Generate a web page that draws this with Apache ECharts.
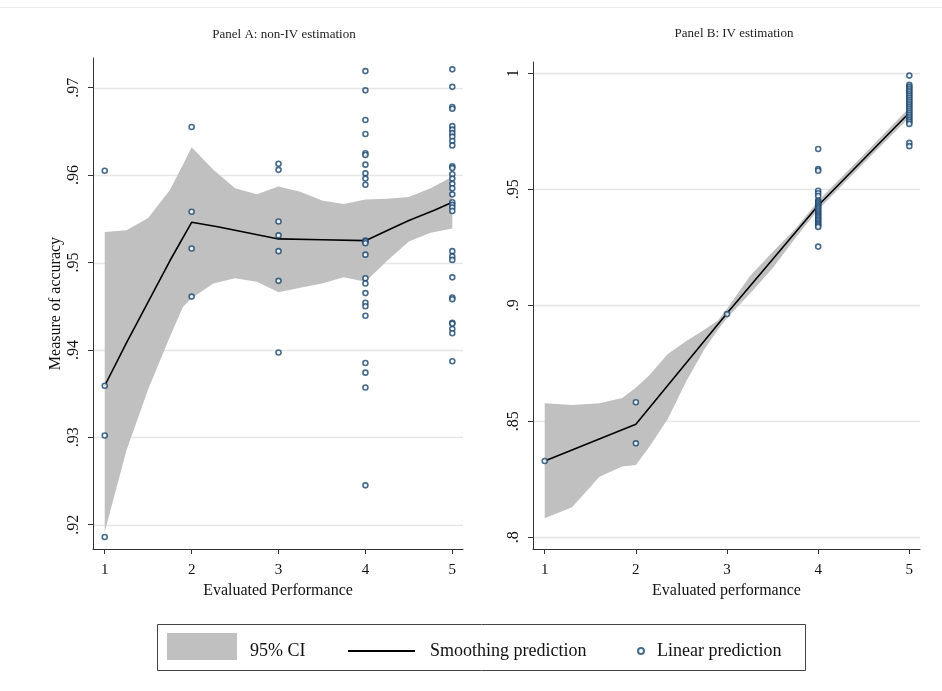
<!DOCTYPE html>
<html><head><meta charset="utf-8">
<script src="https://cdn.jsdelivr.net/npm/echarts@6/dist/echarts.min.js"></script>
<style>html,body{margin:0;padding:0;background:#fff}#c{width:942px;height:691px}</style>
</head><body><div id="c"></div>
<script>
// ---------- Data ----------
const xTicks = [1, 2, 3, 4, 5];
const yTicksA = [0.92, 0.93, 0.94, 0.95, 0.96, 0.97];
const yLabelsA = ['.92', '.93', '.94', '.95', '.96', '.97'];
const yTicksB = [0.8, 0.85, 0.9, 0.95, 1];
const yLabelsB = ['.8', '.85', '.9', '.95', '1'];

// Panel A: non-IV estimation, linear predictions by evaluated performance
const ptsA1 = [0.9605, 0.9359, 0.9302, 0.9186];
const ptsA2 = [0.9655, 0.9558, 0.9516, 0.9461];
const ptsA3 = [0.9613, 0.9606, 0.9547, 0.9531, 0.9513, 0.9479, 0.9397];
const ptsA4 = [0.9719, 0.9697, 0.9663, 0.9647, 0.9625, 0.9623, 0.9612, 0.9602, 0.9596, 0.9589,
               0.9525, 0.9524, 0.9522, 0.9509, 0.9482, 0.9476, 0.9465, 0.9454, 0.9450, 0.9439,
               0.9385, 0.9374, 0.9357, 0.9245];
const ptsA5 = [0.9721, 0.9701, 0.9678, 0.9676, 0.9656, 0.9652, 0.9648, 0.9644, 0.9639, 0.9634,
               0.9610, 0.9608, 0.9601, 0.9596, 0.9590, 0.9585, 0.9578, 0.9569, 0.9566, 0.9563,
               0.9559, 0.9513, 0.9507, 0.9503, 0.9483, 0.9460, 0.9458, 0.9431, 0.9430, 0.9424,
               0.9419, 0.9387];
// Panel A smoothing prediction
const smoothXA = [1, 1.25, 1.5, 1.75, 2, 2.3, 2.6, 3, 3.5, 4, 4.3, 4.5, 4.8, 5];
const smoothYA = [0.9359, 0.9408, 0.9455, 0.9502, 0.9546, 0.9541, 0.9535, 0.9527, 0.9526, 0.9525, 0.9539, 0.9548, 0.9560, 0.9569];
// Panel A 95% CI
const ciXA  = [1, 1.25, 1.5, 1.75, 1.9, 2, 2.25, 2.5, 2.75, 3, 3.25, 3.5, 3.75, 4, 4.25, 4.5, 4.75, 5];
const ciLoA = [0.9192, 0.9285, 0.9355, 0.9415, 0.9449, 0.9459, 0.9476, 0.9482, 0.9478, 0.9466, 0.9471, 0.9476, 0.9483, 0.9478, 0.9502, 0.9524, 0.9534, 0.9539];
const ciHiA = [0.9535, 0.9537, 0.9551, 0.9583, 0.9612, 0.9632, 0.9606, 0.9585, 0.9578, 0.9587, 0.9581, 0.9571, 0.9567, 0.9572, 0.9573, 0.9575, 0.9585, 0.9598];

// Panel B: IV estimation
const ptsB1 = [0.8329];
const ptsB2 = [0.8582, 0.8405];
const ptsB3 = [0.8962];
const ptsB4 = [0.9674, 0.9587, 0.9580, 0.9494, 0.9483, 0.9471, 0.9452, 0.9446, 0.9440, 0.9434,
               0.9428, 0.9422, 0.9416, 0.9410, 0.9404, 0.9398, 0.9392, 0.9386, 0.9380, 0.9374,
               0.9368, 0.9362, 0.9356, 0.9350, 0.9344, 0.9338, 0.9253];
const ptsB5 = [0.9990, 0.9950, 0.9942, 0.9934, 0.9926, 0.9918, 0.9910, 0.9902, 0.9894, 0.9886,
               0.9878, 0.9870, 0.9862, 0.9854, 0.9846, 0.9838, 0.9830, 0.9822, 0.9814, 0.9806,
               0.9798, 0.9790, 0.9782, 0.9700, 0.9686];
const smoothXB = [1, 2, 3, 4, 5];
const smoothYB = [0.8329, 0.8487, 0.8966, 0.9430, 0.9830];
const ciXB  = [1, 1.3, 1.6, 1.85, 2, 2.15, 2.35, 2.55, 2.75, 2.9, 3, 3.25, 3.5, 3.75, 4, 4.5, 5];
const ciLoB = [0.8082, 0.8130, 0.8261, 0.8305, 0.8312, 0.8391, 0.8510, 0.8670, 0.8810, 0.8895, 0.8945, 0.9050, 0.9160, 0.9290, 0.9412, 0.9612, 0.9810];
const ciHiB = [0.8578, 0.8570, 0.8578, 0.8600, 0.8645, 0.8700, 0.8790, 0.8845, 0.8895, 0.8935, 0.8985, 0.9125, 0.9230, 0.9330, 0.9450, 0.9650, 0.9852];

// ---------- Helpers ----------
const SERIF = '"Liberation Serif", "Times New Roman", serif';
const NAVY = '#1a476f';
const BAND = '#c0c0c0';
const GRIDC = '#e6e6e6';
function groupPts(groups) {
  const out = [];
  groups.forEach((arr, i) => arr.forEach(v => out.push([xTicks[i], v])));
  return out;
}
function zip(xs, ys) { return xs.map((x, i) => [x, ys[i]]); }
function fmt(ticks, labels) {
  return v => { let k = 0, best = 1e9; ticks.forEach((t, i) => { const d = Math.abs(t - v); if (d < best) { best = d; k = i; } }); return labels[k]; };
}
const axisLineStyle = { color: '#333', width: 1 };

function xAxisFor(g, min, max, name) {
  return {
    gridIndex: g, type: 'value', min: min, max: max,
    axisLine: { show: true, onZero: false, lineStyle: axisLineStyle },
    axisTick: { show: true, customValues: xTicks, length: 5, lineStyle: axisLineStyle },
    axisLabel: { customValues: xTicks, fontFamily: SERIF, fontSize: 15, color: '#111', margin: 14 },
    splitLine: { show: false },
    name: name, nameLocation: 'middle', nameGap: 28,
    nameTextStyle: { fontFamily: SERIF, fontSize: 16, color: '#111' }
  };
}
function yAxisFor(g, min, max, ticks, labels, name) {
  return {
    gridIndex: g, type: 'value', min: min, max: max,
    axisLine: { show: true, onZero: false, lineStyle: axisLineStyle },
    axisTick: { show: true, customValues: ticks, length: 5, lineStyle: axisLineStyle },
    axisLabel: { customValues: ticks, formatter: fmt(ticks, labels), rotate: 90, fontFamily: SERIF, fontSize: 16, color: '#111', margin: 11 },
    splitLine: { show: false },
    name: name, nameLocation: 'middle', nameGap: 29,
    nameTextStyle: { fontFamily: SERIF, fontSize: 16, color: '#111' }
  };
}
// Grid lines (drawn first) + CI band polygon, all positioned through the axes' scales
function bandSeries(idx, ticks, ciX, ciLo, ciHi) {
  return {
    type: 'custom', name: '95% CI', xAxisIndex: idx, yAxisIndex: idx, silent: true, z: 2,
    itemStyle: { color: BAND },
    data: ciX.map((x, i) => [x, ciLo[i], ciHi[i]]),
    renderItem: function (params, api) {
      if (params.dataIndex !== 0) return null;
      const cs = params.coordSys;
      const children = ticks.map(t => {
        const y = Math.round(api.coord([ciX[0], t])[1]) + 0.5;
        return { type: 'line', shape: { x1: cs.x + 1, y1: y, x2: cs.x + cs.width, y2: y },
                 style: { stroke: GRIDC, lineWidth: 1.5 } };
      });
      const pts = [];
      for (let i = 0; i < ciX.length; i++) pts.push(api.coord([ciX[i], ciHi[i]]));
      for (let i = ciX.length - 1; i >= 0; i--) pts.push(api.coord([ciX[i], ciLo[i]]));
      children.push({ type: 'polygon', shape: { points: pts }, style: { fill: BAND, stroke: null } });
      return { type: 'group', children: children };
    }
  };
}
function panelSeries(idx, ticks, ciX, ciLo, ciHi, sx, sy, pts) {
  return [
    bandSeries(idx, ticks, ciX, ciLo, ciHi),
    { type: 'line', name: 'Smoothing prediction', xAxisIndex: idx, yAxisIndex: idx,
      data: zip(sx, sy), symbol: 'none', showSymbol: false,
      lineStyle: { color: '#000', width: 1.6 }, itemStyle: { color: '#000' }, z: 3 },
    { type: 'scatter', name: 'Linear prediction', xAxisIndex: idx, yAxisIndex: idx,
      data: pts, symbol: 'circle', symbolSize: 5,
      itemStyle: { color: '#fff', borderColor: NAVY, borderWidth: 1.6 }, z: 4 }
  ];
}

const legendText = { fontFamily: SERIF, fontSize: 18, color: '#111' };
const option = {
  animation: false,
  backgroundColor: '#fff',
  title: [
    { text: 'Panel A: non-IV estimation', left: 279, top: 23, textAlign: 'center',
      textStyle: { fontFamily: SERIF, fontSize: 13, fontWeight: 'normal', color: '#222' } },
    { text: 'Panel B: IV estimation', left: 729, top: 22, textAlign: 'center',
      textStyle: { fontFamily: SERIF, fontSize: 13, fontWeight: 'normal', color: '#222' } }
  ],
  grid: [
    { left: 93, right: 479, top: 58, bottom: 142 },
    { left: 533, right: 22, top: 62, bottom: 142 }
  ],
  xAxis: [
    xAxisFor(0, 0.865, 5.123, 'Evaluated Performance'),
    xAxisFor(1, 0.8715, 5.117, 'Evaluated performance')
  ],
  yAxis: [
    yAxisFor(0, 0.91722, 0.9734, yTicksA, yLabelsA, 'Measure of accuracy'),
    yAxisFor(1, 0.79496, 1.00487, yTicksB, yLabelsB, '')
  ],
  legend: [
    { data: ['95% CI'], left: 167, top: 633, padding: 0, itemWidth: 70, itemHeight: 27, icon: 'rect', selectedMode: false,
      itemStyle: { color: BAND }, formatter: '{t|{name}}',
      textStyle: Object.assign({ padding: [0, 0, 0, 8], rich: { t: { fontFamily: SERIF, fontSize: 18, color: '#111', padding: [9, 0, 0, 0] } } }, legendText) },
    { data: ['Smoothing prediction'], left: 348, top: 642, padding: 0, itemWidth: 67, itemHeight: 2, icon: 'rect', selectedMode: false,
      itemStyle: { color: '#000' }, textStyle: Object.assign({ padding: [0, 0, 0, 10] }, legendText) },
    { data: ['Linear prediction'], left: 637, top: 642, padding: 0, itemWidth: 6, itemHeight: 6, icon: 'circle', selectedMode: false,
      textStyle: Object.assign({ padding: [0, 0, 0, 8] }, legendText) }
  ],
  graphic: [
    { type: 'rect', shape: { x: 157.5, y: 624.5, width: 648, height: 46 }, silent: true,
      style: { fill: 'none', stroke: '#444', lineWidth: 1 } },
    { type: 'line', shape: { x1: 0, y1: 7.5, x2: 942, y2: 7.5 }, silent: true,
      style: { stroke: '#ececec', lineWidth: 1 } }
  ],
  series: [].concat(
    panelSeries(0, yTicksA, ciXA, ciLoA, ciHiA, smoothXA, smoothYA, groupPts([ptsA1, ptsA2, ptsA3, ptsA4, ptsA5])),
    panelSeries(1, yTicksB, ciXB, ciLoB, ciHiB, smoothXB, smoothYB, groupPts([ptsB1, ptsB2, ptsB3, ptsB4, ptsB5]))
  )
};
const chart = echarts.init(document.getElementById('c'), null, { renderer: 'canvas' });
chart.setOption(option);
</script></body></html>
